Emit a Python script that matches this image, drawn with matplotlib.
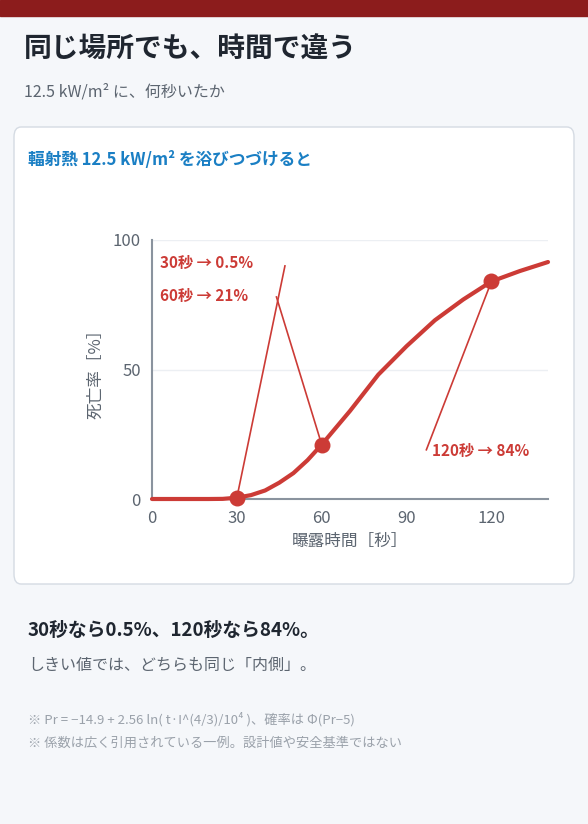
import matplotlib
matplotlib.use("Agg")
import matplotlib.pyplot as plt
from matplotlib.patches import FancyBboxPatch, Rectangle

plt.rcParams['font.family'] = ['Noto Sans CJK JP', 'DejaVu Sans']

t = [0, 10, 20, 25, 30, 35, 40, 45, 50, 55, 60, 70, 80, 90, 100, 110, 120, 130, 140]
p = [0, 0, 0, 0.05, 0.5, 1.5, 3.3, 6.3, 10, 15, 21, 34, 48, 59, 69, 77, 84, 88, 91.5]
mark_t = [30, 60, 120]
mark_p = [0.5, 21, 84]
labels = ["30秒 → 0.5%", "60秒 → 21%", "120秒 → 84%"]
xticks = [0, 30, 60, 90, 120]
yticks = [0, 50, 100]

W, H = 588, 824
fig = plt.figure(figsize=(W/100, H/100), dpi=100)
fig.patch.set_facecolor('#f5f7fa')
def fx(x): return x / W
def fy(y): return 1 - y / H

fig.patches.append(Rectangle((0, fy(16)), 1, 16/H, transform=fig.transFigure, color='#8c1c1c', zorder=-2))
fig.patches.append(FancyBboxPatch((fx(14), fy(584)), 560/W, 457/H, boxstyle="round,pad=0,rounding_size=0.012",
                                  transform=fig.transFigure, facecolor='white', edgecolor='#d5dbe3', lw=1, zorder=-2))
fig.text(fx(24), fy(50), "同じ場所でも、時間で違う", fontsize=20, fontweight='bold', color='#1f2630', va='center')
fig.text(fx(24), fy(92), "12.5 kW/m² に、何秒いたか", fontsize=11.5, color='#5c6570', va='center')
fig.text(fx(28), fy(160), "輻射熱 12.5 kW/m² を浴びつづけると", fontsize=12, fontweight='bold', color='#1a7fc4', va='center')
fig.text(fx(28), fy(630), "30秒なら0.5%、120秒なら84%。", fontsize=13.5, fontweight='bold', color='#1f2630', va='center')
fig.text(fx(28), fy(665), "しきい値では、どちらも同じ「内側」。", fontsize=11.5, color='#5c6570', va='center')
fig.text(fx(28), fy(719), "※ Pr = −14.9 + 2.56 ln( t·I^(4/3)/10⁴ )、確率は Φ(Pr−5)", fontsize=9.5, color='#9aa1aa', va='center')
fig.text(fx(28), fy(743), "※ 係数は広く引用されている一例。設計値や安全基準ではない", fontsize=9.5, color='#9aa1aa', va='center')

ax = fig.add_axes([fx(152), fy(499), (548-152)/W, (499-240)/H])
ax.set_zorder(5)
ax.set_facecolor('white')
ax.set_xlim(0, 140); ax.set_ylim(0, 100)
red = '#cc3b36'
ax.plot(t, p, color=red, lw=3, solid_capstyle='round', zorder=3, clip_on=False)
ax.scatter(mark_t, mark_p, s=110, color=red, zorder=4, clip_on=False)
ax.set_xticks(xticks); ax.set_yticks(yticks)
ax.tick_params(length=0, labelsize=12, colors='#5c6570', pad=8)
ax.grid(axis='y', color='#eceff3', lw=1)
ax.set_axisbelow(True)
for s in ['top', 'right']:
    ax.spines[s].set_visible(False)
for s in ['left', 'bottom']:
    ax.spines[s].set_color('#8a939e'); ax.spines[s].set_linewidth(1.5)
ax.set_xlabel("曝露時間［秒］", fontsize=12, color='#5c6570', labelpad=4)
ax.set_ylabel("死亡率［%］", fontsize=12, color='#5c6570', labelpad=6)

label_pos = [(3, 91), (3, 78.5), (99, 18.5)]
line_start = [(47, 90), (44, 78), (97, 19)]
for (lx, ly), (sx, sy), mt, mp, lab in zip(label_pos, line_start, mark_t, mark_p, labels):
    ax.plot([sx, mt], [sy, mp], color=red, lw=1.2, zorder=2)
    ax.text(lx, ly, lab, fontsize=11, fontweight='bold', color=red, va='center')

fig.savefig("out.png", dpi=100, facecolor=fig.get_facecolor())
